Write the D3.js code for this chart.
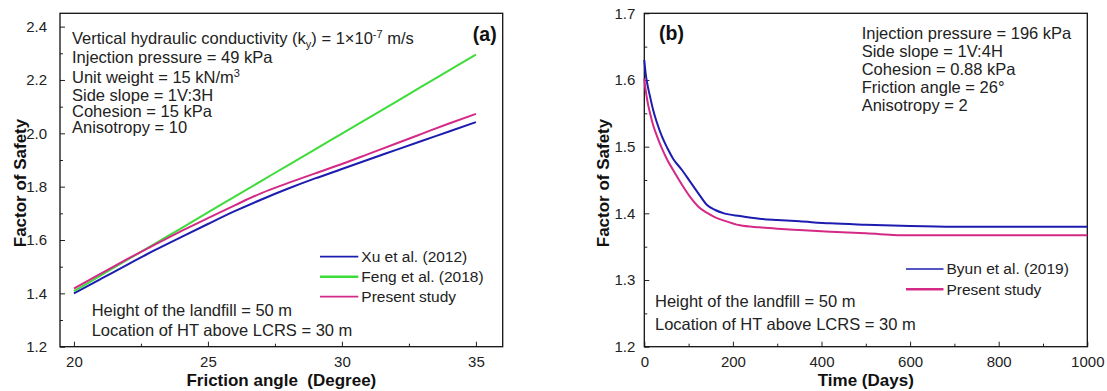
<!DOCTYPE html>
<html>
<head>
<meta charset="utf-8">
<script src="https://cdn.jsdelivr.net/npm/d3@7"></script>
<style>
  body { margin: 0; background: #fff; }
  svg { display: block; font-family: "Liberation Sans", Arial, sans-serif; }
  .tick text { font-size: 15px; fill: #222; }
  text { white-space: pre; }
</style>
</head>
<body>
<div id="chart-area"></div>
<script>
// Panel (a) data: FoS vs friction angle
let frictionAngle = [20, 21, 22, 23, 24, 25, 26, 27, 28, 29, 30, 31, 32, 33, 34, 35];
let xuFos      = [1.400, 1.454, 1.508, 1.561, 1.611, 1.660, 1.708, 1.752, 1.793, 1.831, 1.866, 1.902, 1.937, 1.972, 2.007, 2.042];
let fengFos    = [1.408, 1.467, 1.526, 1.585, 1.644, 1.704, 1.763, 1.822, 1.881, 1.940, 1.999, 2.058, 2.117, 2.177, 2.236, 2.295];
let presentAFos = [1.418, 1.474, 1.529, 1.582, 1.633, 1.682, 1.730, 1.776, 1.814, 1.850, 1.885, 1.923, 1.961, 1.999, 2.037, 2.073];
let xTicksA = [20, 25, 30, 35];
let yTicksA = [1.2, 1.4, 1.6, 1.8, 2.0, 2.2, 2.4];

// Panel (b) data: FoS vs time
let timeDays = [0, 3, 8, 13, 20, 28, 40, 52, 65, 85, 103, 122, 141, 160, 180, 216, 260, 300, 350, 420, 500, 600, 700, 800, 900, 1000];
let byunFos    = [1.630, 1.610, 1.590, 1.575, 1.555, 1.537, 1.515, 1.498, 1.482, 1.465, 1.448, 1.430, 1.413, 1.405, 1.400, 1.396, 1.392, 1.390, 1.388, 1.385, 1.383, 1.381, 1.380, 1.380, 1.380, 1.380];
let presentBFos = [1.602, 1.585, 1.565, 1.550, 1.532, 1.517, 1.497, 1.480, 1.465, 1.443, 1.425, 1.410, 1.401, 1.394, 1.389, 1.382, 1.379, 1.377, 1.375, 1.3725, 1.370, 1.367, 1.367, 1.367, 1.367, 1.367];
let xTicksB = [0, 200, 400, 600, 800, 1000];
let yTicksB = [1.2, 1.3, 1.4, 1.5, 1.6, 1.7];

let blue = "#1c1cb0", green = "#3edc3a", magenta = "#d42a86";

let svg = d3.select("#chart-area")
    .append("svg")
    .attr("width", 1107)
    .attr("height", 391);

function panel(opt) {
    let g = svg.append("g");
    let x = d3.scaleLinear().domain(opt.xDomain).range([opt.left, opt.right]);
    let y = d3.scaleLinear().domain(opt.yDomain).range([opt.bottom, opt.top]);

    // minor ticks
    g.append("g")
        .attr("transform", "translate(0," + opt.bottom + ")")
        .call(d3.axisBottom(x).tickValues(opt.xMinor).tickSize(-3).tickFormat(""))
        .call(s => s.select(".domain").remove());
    g.append("g")
        .attr("transform", "translate(" + opt.left + ",0)")
        .call(d3.axisLeft(y).tickValues(opt.yMinor).tickSize(-3).tickFormat(""))
        .call(s => s.select(".domain").remove());

    // major ticks
    g.append("g")
        .attr("transform", "translate(0," + opt.bottom + ")")
        .call(d3.axisBottom(x).tickValues(opt.xTicks).tickSize(-5).tickPadding(10).tickFormat(d3.format("d")))
        .call(s => s.select(".domain").remove());
    g.append("g")
        .attr("transform", "translate(" + opt.left + ",0)")
        .call(d3.axisLeft(y).tickValues(opt.yTicks).tickSize(-5).tickPadding(opt.yPad).tickFormat(d3.format(".1f")))
        .call(s => s.select(".domain").remove());
    g.selectAll(".tick line").attr("stroke", "#222");

    // frame
    g.append("rect")
        .attr("x", opt.left).attr("y", opt.top)
        .attr("width", opt.right - opt.left).attr("height", opt.bottom - opt.top)
        .attr("fill", "none").attr("stroke", "#111").attr("stroke-width", 1.3);

    // lines
    let line = d3.line()
        .x(d => x(d[0]))
        .y(d => y(d[1]))
        .curve(d3.curveMonotoneX);
    opt.series.forEach(function(s) {
        g.append("path")
            .datum(opt.xs.map((v, i) => [v, s.values[i]]))
            .attr("fill", "none")
            .attr("stroke", s.color)
            .attr("stroke-width", 2)
            .attr("d", line);
    });

    // axis titles
    g.append("text")
        .attr("x", (opt.left + opt.right) / 2)
        .attr("y", 386)
        .attr("text-anchor", "middle")
        .attr("font-size", "17px")
        .attr("font-weight", "bold")
        .attr("fill", "#111")
        .text(opt.xTitle);
    g.append("text")
        .attr("transform", "translate(" + opt.yTitleX + "," + opt.yTitleY + ") rotate(-90)")
        .attr("text-anchor", "middle")
        .attr("font-size", "17px")
        .attr("font-weight", "bold")
        .attr("fill", "#111")
        .text("Factor of Safety");

    return { g: g, x: x, y: y };
}

// Panel (a)
let a = panel({
    left: 60, right: 502.7, top: 13.3, bottom: 346.7,
    xDomain: [19.48, 36.0], yDomain: [1.2, 2.45],
    xTicks: xTicksA, yTicks: yTicksA,
    xMinor: [22.5, 27.5, 32.5], yMinor: [1.3, 1.5, 1.7, 1.9, 2.1, 2.3],
    yPad: 13,
    xs: frictionAngle,
    series: [
        { values: xuFos, color: blue },
        { values: fengFos, color: green },
        { values: presentAFos, color: magenta }
    ],
    xTitle: "Friction angle  (Degree)",
    yTitleX: 26, yTitleY: 183
});

// Panel (b)
let b = panel({
    left: 644.3, right: 1087.3, top: 13.3, bottom: 346.7,
    xDomain: [0, 1000], yDomain: [1.2, 1.7],
    xTicks: xTicksB, yTicks: yTicksB,
    xMinor: [100, 300, 500, 700, 900], yMinor: [1.25, 1.35, 1.45, 1.55, 1.65],
    yPad: 9,
    xs: timeDays,
    series: [
        { values: byunFos, color: blue },
        { values: presentBFos, color: magenta }
    ],
    xTitle: "Time (Days)",
    yTitleX: 609, yTitleY: 183
});

// Annotations
function textBlock(g, x, lines, size) {
    lines.forEach(function(l) {
        let t = g.append("text")
            .attr("x", x)
            .attr("y", l.y)
            .attr("font-size", size + "px")
            .attr("fill", "#222");
        l.parts.forEach(function(p) {
            let ts = t.append("tspan").text(p.t);
            if (p.sub) ts.attr("font-size", "11px").attr("dy", 4);
            if (p.sup) ts.attr("font-size", "11px").attr("dy", -6);
            if (p.reset) ts.attr("dy", p.reset);
        });
    });
}

textBlock(a.g, 72, [
    { y: 44, parts: [{ t: "Vertical hydraulic conductivity (k" }, { t: "y", sub: true }, { t: ") = 1×10", reset: -4 }, { t: "-7", sup: true }, { t: " m/s", reset: 6 }] },
    { y: 63, parts: [{ t: "Injection pressure = 49 kPa" }] },
    { y: 82.5, parts: [{ t: "Unit weight = 15 kN/m" }, { t: "3", sup: true }] },
    { y: 100.5, parts: [{ t: "Side slope = 1V:3H" }] },
    { y: 116.5, parts: [{ t: "Cohesion = 15 kPa" }] },
    { y: 133, parts: [{ t: "Anisotropy = 10" }] }
], 16.5);

textBlock(a.g, 91.7, [
    { y: 316, parts: [{ t: "Height of the landfill = 50 m" }] },
    { y: 336, parts: [{ t: "Location of HT above LCRS = 30 m" }] }
], 16.5);

textBlock(b.g, 861.7, [
    { y: 39, parts: [{ t: "Injection pressure = 196 kPa" }] },
    { y: 57, parts: [{ t: "Side slope = 1V:4H" }] },
    { y: 75, parts: [{ t: "Cohesion = 0.88 kPa" }] },
    { y: 93, parts: [{ t: "Friction angle = 26°" }] },
    { y: 111, parts: [{ t: "Anisotropy = 2" }] }
], 16.5);

textBlock(b.g, 655, [
    { y: 307, parts: [{ t: "Height of the landfill = 50 m" }] },
    { y: 330, parts: [{ t: "Location of HT above LCRS = 30 m" }] }
], 16.5);

// panel letters
a.g.append("text").attr("x", 496.7).attr("y", 41).attr("text-anchor", "end")
    .attr("font-size", "19.5px").attr("font-weight", "bold").attr("fill", "#111").text("(a)");
b.g.append("text").attr("x", 659).attr("y", 40)
    .attr("font-size", "19.5px").attr("font-weight", "bold").attr("fill", "#111").text("(b)");

// Legends
function legend(g, x0, x1, items) {
    items.forEach(function(it) {
        g.append("line")
            .attr("x1", x0).attr("x2", x1)
            .attr("y1", it.y).attr("y2", it.y)
            .attr("stroke", it.color).attr("stroke-width", it.w);
        g.append("text")
            .attr("x", x1 + 3)
            .attr("y", it.y)
            .attr("dy", "0.35em")
            .attr("font-size", "15.5px")
            .attr("fill", "#222")
            .text(it.label);
    });
}

legend(a.g, 320, 358.3, [
    { y: 256.7, color: blue, w: 1.8, label: "Xu et al. (2012)" },
    { y: 276.7, color: green, w: 2.6, label: "Feng et al. (2018)" },
    { y: 296.7, color: magenta, w: 1.8, label: "Present study" }
]);

legend(b.g, 906, 943.5, [
    { y: 269, color: blue, w: 1.6, label: "Byun et al. (2019)" },
    { y: 289.3, color: magenta, w: 2.6, label: "Present study" }
]);
</script>
</body>
</html>
